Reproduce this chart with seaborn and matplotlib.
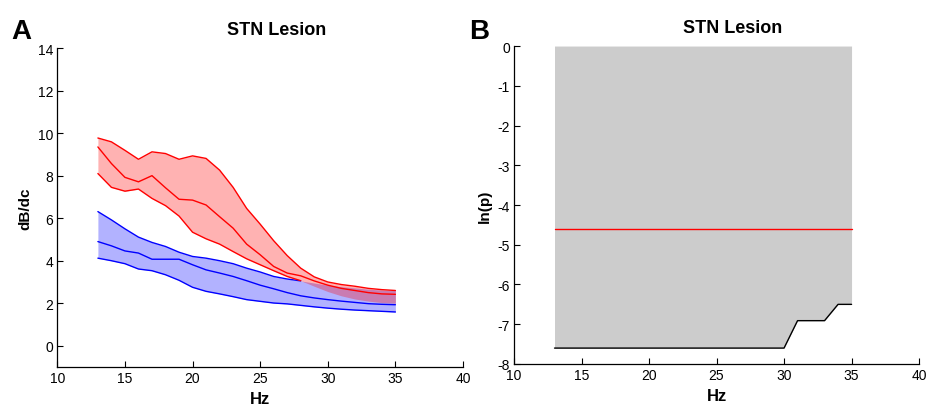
import numpy as np
import pandas as pd
import matplotlib
matplotlib.use("Agg")
import matplotlib.pyplot as plt
import seaborn as sns

# frequency bins (Hz)
hz = list(range(13, 36))

# panel A: dB/dc, lesion (red) and control (blue) - lower / middle / upper
red_upper = [9.77, 9.59, 9.19, 8.77, 9.12, 9.04, 8.77, 8.93, 8.81, 8.26, 7.45, 6.46,
             5.72, 4.94, 4.24, 3.65, 3.24, 3.00, 2.88, 2.80, 2.70, 2.64, 2.60]
red_mid = [9.35, 8.57, 7.92, 7.71, 8.00, 7.43, 6.89, 6.85, 6.62, 6.07, 5.53, 4.78,
           4.28, 3.73, 3.42, 3.29, 3.05, 2.85, 2.70, 2.60, 2.50, 2.44, 2.42]
red_lower = [8.10, 7.45, 7.27, 7.37, 6.93, 6.59, 6.10, 5.34, 5.03, 4.78, 4.43, 4.09,
             3.81, 3.53, 3.26, 3.06, 2.80, 2.55, 2.35, 2.20, 2.10, 2.03, 2.00]
blue_upper = [6.31, 5.92, 5.50, 5.11, 4.86, 4.67, 4.40, 4.20, 4.12, 4.00, 3.86, 3.65,
              3.47, 3.26, 3.14, 3.05, 2.95, 2.85, 2.78, 2.72, 2.66, 2.62, 2.60]
blue_mid = [4.90, 4.70, 4.46, 4.36, 4.07, 4.07, 4.07, 3.81, 3.57, 3.42, 3.26, 3.06,
            2.85, 2.68, 2.50, 2.35, 2.25, 2.17, 2.10, 2.04, 1.98, 1.95, 1.93]
blue_lower = [4.12, 4.00, 3.86, 3.61, 3.53, 3.34, 3.08, 2.75, 2.56, 2.44, 2.31, 2.17,
              2.09, 2.01, 1.97, 1.90, 1.83, 1.77, 1.72, 1.68, 1.65, 1.62, 1.59]

# panel B: ln(p) of the test, and the significance threshold ln(0.01)
ln_p = [-7.6] * 18 + [-6.91, -6.91, -6.91, -6.5, -6.5]
threshold = [np.log(0.01)] * 23

sns.set_style("ticks")
plt.rcParams["font.family"] = ["Liberation Sans", "DejaVu Sans"]
plt.rcParams["xtick.direction"] = "in"
plt.rcParams["ytick.direction"] = "in"
plt.rcParams["axes.unicode_minus"] = False
for k in ["text.color", "axes.labelcolor", "xtick.color", "ytick.color", "axes.edgecolor"]:
    plt.rcParams[k] = "black"

df = pd.DataFrame({"Hz": hz, "red_upper": red_upper, "red_mid": red_mid,
                   "red_lower": red_lower, "blue_upper": blue_upper,
                   "blue_mid": blue_mid, "blue_lower": blue_lower,
                   "ln_p": ln_p, "thr": threshold})
# the lower red edge and upper blue edge disappear where the bands overlap
early = df[df["Hz"] <= 28]

fig = plt.figure(figsize=(9.29, 4.14), dpi=100)
axA = fig.add_axes([0.0617, 0.111, 0.4367, 0.7705])
axB = fig.add_axes([0.5533, 0.1184, 0.436, 0.768])

# ---- panel A
axA.fill_between(df["Hz"], df["blue_lower"], df["blue_upper"], color="blue", alpha=0.3, lw=0)
sns.lineplot(data=early, x="Hz", y="blue_upper", color="blue", lw=1, ax=axA)
for col in ["blue_mid", "blue_lower"]:
    sns.lineplot(data=df, x="Hz", y=col, color="blue", lw=1, ax=axA)
axA.fill_between(df["Hz"], df["red_lower"], df["red_upper"], color="red", alpha=0.3, lw=0)
sns.lineplot(data=early, x="Hz", y="red_lower", color="red", lw=1, ax=axA)
for col in ["red_upper", "red_mid"]:
    sns.lineplot(data=df, x="Hz", y=col, color="red", lw=1, ax=axA)

axA.set_xlim(10, 40)
axA.set_ylim(-1, 14)
axA.set_yticks(range(0, 15, 2))
axA.set_ylabel("dB/dc", fontsize=11, fontweight="bold")

# ---- panel B
axB.fill_between(df["Hz"], df["ln_p"], 0, color="0.8", lw=0)
sns.lineplot(data=df, x="Hz", y="ln_p", color="black", lw=1, ax=axB)
sns.lineplot(data=df, x="Hz", y="thr", color="red", lw=1, ax=axB)
axB.set_xlim(10, 40)
axB.set_ylim(-8, 0)
axB.set_yticks(range(-8, 1))
axB.set_ylabel("ln(p)", fontsize=11, fontweight="bold")

for ax in [axA, axB]:
    sns.despine(ax=ax)
    ax.set_xticks(range(10, 41, 5))
    ax.set_xlabel("Hz", fontsize=12, fontweight="bold", labelpad=4)
    ax.tick_params(labelsize=10, length=4, width=0.8, pad=3)
    ax.set_title("STN Lesion", fontsize=13, fontweight="bold", x=0.54, pad=10)
    for s in ["left", "bottom"]:
        ax.spines[s].set_linewidth(0.9)

fig.text(0.012, 0.905, "A", fontsize=20, fontweight="bold")
fig.text(0.505, 0.905, "B", fontsize=20, fontweight="bold")

fig.savefig("out.png", dpi=100)
